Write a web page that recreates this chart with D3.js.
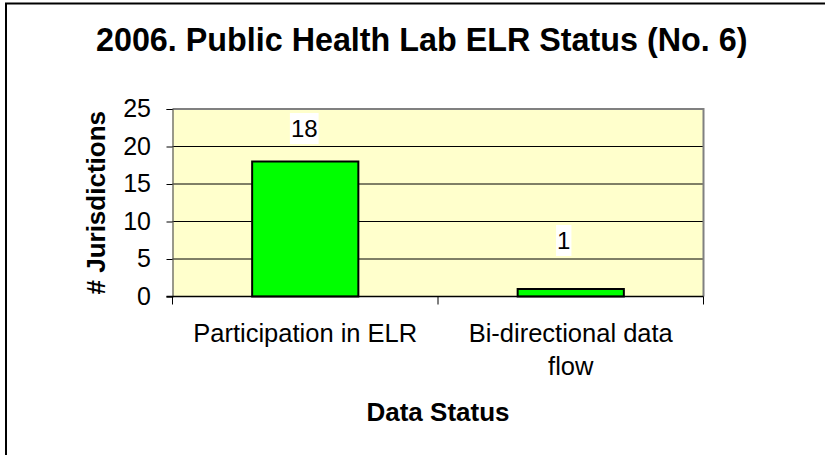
<!DOCTYPE html>
<html>
<head>
<meta charset="utf-8">
<script src="https://cdn.jsdelivr.net/npm/d3@7"></script>
<style>
  body { margin: 0; background: #fff; }
  svg { display: block; font-family: "Liberation Sans", Arial, sans-serif; }
</style>
</head>
<body>
<svg id="chart" width="825" height="455"></svg>
<script>
// data
var categories = ["Participation in ELR", "Bi-directional data flow"];
var catLines = [["Participation in ELR"], ["Bi-directional data", "flow"]];
var jurisdictions = [18, 1];
var yTicks = [0, 5, 10, 15, 20, 25];

// label nudges (px) for the value boxes, as in the original
var labelLift = [24.5, 40],
  labelShift = [-1, -7];

var svg = d3.select("#chart");

var plotL = 172.5,
  plotR = 703.5,
  plotT = 109,
  plotB = 296.5;

var x = d3
  .scaleBand()
  .domain(categories)
  .range([plotL, plotR])
  .paddingInner(0.6)
  .paddingOuter(0.3);

var y = d3.scaleLinear().domain([0, 25]).range([plotB, plotT]);

function label(g, px, py, str) {
  return g
    .append("text")
    .attr("x", px)
    .attr("y", py)
    .attr("text-anchor", "middle")
    .text(str);
}

// outer frame (left + top edge only visible)
svg
  .append("path")
  .attr("d", "M6,455 L6,3.5 L825,3.5")
  .attr("fill", "none")
  .attr("stroke", "#000")
  .attr("stroke-width", 2);

// plot background
svg
  .append("rect")
  .attr("x", plotL)
  .attr("y", plotT)
  .attr("width", plotR - plotL)
  .attr("height", plotB - plotT)
  .attr("fill", "#FFFFCC");

// gridlines
svg
  .append("g")
  .selectAll("line")
  .data(yTicks.filter((d) => d > 0 && d < 25))
  .join("line")
  .attr("x1", plotL)
  .attr("x2", plotR)
  .attr("y1", (d) => y(d))
  .attr("y2", (d) => y(d))
  .attr("stroke", "#000")
  .attr("stroke-width", 1);

// top + right border of plot area
svg
  .append("path")
  .attr("d", "M" + plotL + "," + y(25) + " L" + plotR + "," + y(25) + " L" + plotR + "," + plotB)
  .attr("fill", "none")
  .attr("stroke", "#808080")
  .attr("stroke-width", 2);

// bars
svg
  .append("g")
  .selectAll("rect")
  .data(jurisdictions)
  .join("rect")
  .attr("x", (d, i) => x(categories[i]))
  .attr("y", (d) => y(d))
  .attr("width", x.bandwidth())
  .attr("height", (d) => plotB - y(d))
  .attr("fill", "#00FF00")
  .attr("stroke", "#000")
  .attr("stroke-width", 2);

// y axis
var yAxis = svg
  .append("g")
  .attr("transform", "translate(" + plotL + ",0)")
  .call(d3.axisLeft(y).tickValues(yTicks).tickSize(6).tickPadding(15.5));
yAxis.select(".domain").attr("stroke", "#555").attr("stroke-width", 1.2);
yAxis.selectAll(".tick line").attr("stroke", "#000");
yAxis
  .selectAll(".tick text")
  .attr("font-size", 25)
  .attr("font-family", null)
  .attr("fill", "#000")
  .attr("dy", "0.3em");

// x axis: ticks at category boundaries
var xAxis = svg.append("g");
xAxis
  .append("line")
  .attr("x1", plotL - 6)
  .attr("x2", plotR)
  .attr("y1", plotB)
  .attr("y2", plotB)
  .attr("stroke", "#000")
  .attr("stroke-width", 1.5);
var bounds = [plotL].concat(categories.map((c) => x(c) - x.step() * x.paddingOuter() + x.step()));
xAxis
  .selectAll("line.tk")
  .data(bounds)
  .join("line")
  .attr("class", "tk")
  .attr("x1", (d) => d)
  .attr("x2", (d) => d)
  .attr("y1", plotB)
  .attr("y2", plotB + 8)
  .attr("stroke", "#000");

// category labels
var catG = svg.append("g").attr("font-size", 25.5);
catLines.forEach(function (lines, i) {
  var cx = x(categories[i]) + x.bandwidth() / 2;
  lines.forEach(function (ln, j) {
    label(catG, cx, 342 + j * 33, ln);
  });
});

// value labels with white boxes
var valG = svg.append("g").attr("font-size", 24);
jurisdictions.forEach(function (v, i) {
  var cx = x(categories[i]) + x.bandwidth() / 2 + labelShift[i],
    by = y(v) - labelLift[i];
  var box = valG.append("rect").attr("fill", "#fff");
  var t = label(valG, cx, by, String(v));
  var w = t.node().getBBox().width + 2;
  box
    .attr("x", cx - w / 2)
    .attr("y", by - 24)
    .attr("width", w)
    .attr("height", 31);
});

// titles
label(svg, 421.7, 50.5, "2006. Public Health Lab ELR Status (No. 6)")
  .attr("font-size", 32.3)
  .attr("font-weight", "bold");

label(svg, (plotL + plotR) / 2, 421, "Data Status")
  .attr("font-size", 26)
  .attr("font-weight", "bold");

svg
  .append("text")
  .attr("transform", "translate(104.5," + (plotT + plotB) / 2 + ") rotate(-90)")
  .attr("text-anchor", "middle")
  .attr("font-size", 26)
  .attr("font-weight", "bold")
  .text("# Jurisdictions");
</script>
</body>
</html>
